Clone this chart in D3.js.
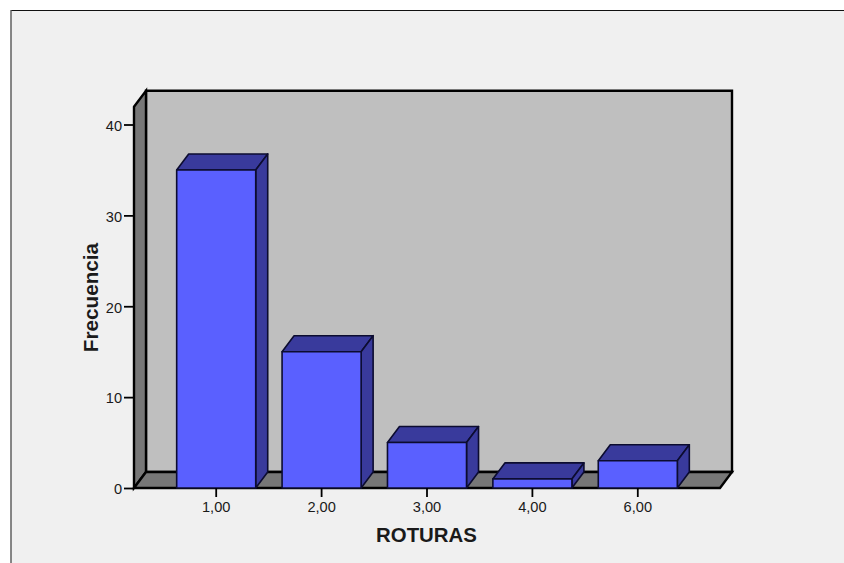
<!DOCTYPE html>
<html><head><meta charset="utf-8">
<script src="https://cdn.jsdelivr.net/npm/d3@7/dist/d3.min.js"></script>
<style>html,body{margin:0;padding:0;background:#fff}svg{display:block}text{font-family:"Liberation Sans",Arial,sans-serif;fill:#1a1a1a}</style>
</head><body><div id="c"></div>
<script>
const categories = ["1,00","2,00","3,00","4,00","6,00"];
const values = [35,15,5,1,3];
const yTicks = [0,10,20,30,40];
const xTitle = "ROTURAS", yTitle = "Frecuencia";

const W=844,H=563, dx=12, dy=-16;
const plot={l:134,r:720,b:488};
const svg=d3.select("#c").append("svg").attr("width",W).attr("height",H);
const y=d3.scaleLinear().domain([0,40]).range([488,124.5]);
const x=d3.scaleBand().domain(categories).range([163.5,690.5]).paddingInner(.25).paddingOuter(.125);
const yTop=y(41.95);
const poly=(pts,fill,sw=2.2,stroke="#000")=>svg.append("polygon").attr("points",pts.map(p=>p.join(",")).join(" ")).attr("fill",fill).attr("stroke",stroke).attr("stroke-width",sw).attr("stroke-linejoin","miter");

// frame
svg.append("rect").attr("x",0).attr("y",0).attr("width",W).attr("height",H).attr("fill","#fff");
svg.append("rect").attr("x",11).attr("y",10.5).attr("width",W).attr("height",H).attr("fill","#f0f0f0");
svg.append("line").attr("x1",11).attr("x2",W).attr("y1",10.5).attr("y2",10.5).attr("stroke","#111").attr("stroke-width",1.2);
svg.append("line").attr("x1",11).attr("x2",11).attr("y1",10).attr("y2",H).attr("stroke","#555").attr("stroke-width",1.4);

// walls
poly([[plot.l+dx,yTop+dy],[plot.r+dx,yTop+dy],[plot.r+dx,plot.b+dy],[plot.l+dx,plot.b+dy]],"#bfbfbf",2.4);
poly([[plot.l,yTop],[plot.l+dx,yTop+dy],[plot.l+dx,plot.b+dy],[plot.l,plot.b]],"#777777",2.4);
poly([[plot.l,plot.b],[plot.l+dx,plot.b+dy],[plot.r+dx,plot.b+dy],[plot.r,plot.b]],"#777777",2.4);

// bars
const g=svg.append("g").selectAll("g").data(categories).join("g");
g.each(function(c,i){
  const x0=x(c),x1=x0+x.bandwidth(),t=y(values[i]),b=y(0);
  const s=d3.select(this);
  const pg=(pts,fill)=>s.append("polygon").attr("points",pts.map(p=>p.join(",")).join(" ")).attr("fill",fill).attr("stroke","#0c0c30").attr("stroke-width",1.6).attr("stroke-linejoin","round");
  pg([[x0,t],[x0+dx,t+dy],[x1+dx,t+dy],[x1,t]],"#393a9c");
  pg([[x1,t],[x1+dx,t+dy],[x1+dx,b+dy],[x1,b]],"#393a9c");
  pg([[x0,t],[x1,t],[x1,b],[x0,b]],"#5a60ff");
});

// axes
const ay=svg.append("g").attr("transform",`translate(${plot.l},0)`).call(d3.axisLeft(y).tickValues(yTicks).tickSize(10).tickPadding(2).tickSizeOuter(0));
ay.select(".domain").remove();
const ax=svg.append("g").attr("transform",`translate(0,${plot.b})`).call(d3.axisBottom(x).tickSize(9).tickPadding(5).tickSizeOuter(0));
ax.select(".domain").remove();
svg.selectAll(".tick line").attr("stroke","#000").attr("stroke-width",1.8);
svg.selectAll(".tick text").style("font-family",'"Liberation Sans",Arial,sans-serif').style("font-size","14.6px").attr("fill","#1a1a1a");
ay.selectAll(".tick text").attr("dy","0.4em");
svg.append("text").attr("x",426.5).attr("y",542).attr("text-anchor","middle").style("font-size","20.4px").style("font-weight","bold").text(xTitle);
svg.append("text").attr("transform","translate(98,297.5) rotate(-90)").attr("text-anchor","middle").style("font-size","20.7px").style("font-weight","bold").text(yTitle);
</script></body></html>
